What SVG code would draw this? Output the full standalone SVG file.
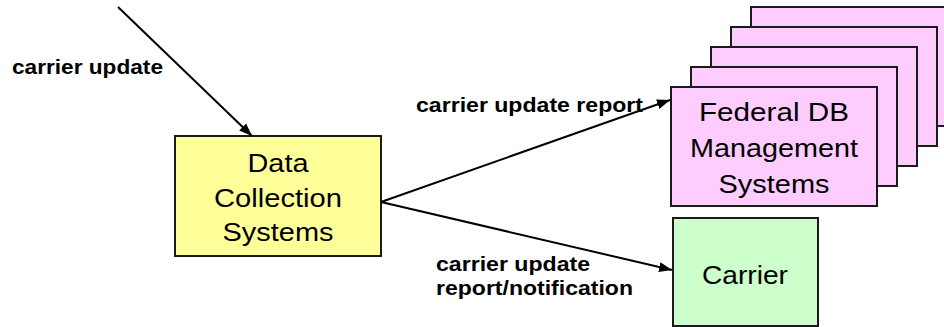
<svg xmlns="http://www.w3.org/2000/svg" width="944" height="327" viewBox="0 0 944 327">
  <style>
    .box { stroke: #1a1a1a; stroke-width: 2; }
    .yellow { fill: #FFFF99; }
    .pink { fill: #FFCCFF; }
    .green { fill: #CCFFCC; }
    .node-text { font-family: "Liberation Sans", Arial, sans-serif; font-size: 26px; fill: #000; }
    .label { font-family: "Liberation Sans", Arial, sans-serif; font-size: 20px; font-weight: bold; fill: #000; }
    .conn { stroke: #000; stroke-width: 2; fill: none; marker-end: url(#arrow); }
  </style>
  <defs>
    <marker id="arrow" markerUnits="userSpaceOnUse" markerWidth="14" markerHeight="12" viewBox="0 0 14 12" refX="13" refY="6" orient="auto">
      <path d="M0,1 L13,6 L0,11 Z" fill="#000"/>
    </marker>
  </defs>
  <rect width="944" height="327" fill="#fff"/>

  <g id="federal-db">
    <rect class="box pink" x="751" y="7" width="206" height="119"/>
    <rect class="box pink" x="731" y="27" width="206" height="119"/>
    <rect class="box pink" x="711" y="47" width="206" height="119"/>
    <rect class="box pink" x="691" y="67" width="206" height="119"/>
    <rect class="box pink" x="671" y="87" width="206" height="119"/>
    <text class="node-text" x="699" y="121" textLength="150" lengthAdjust="spacingAndGlyphs">Federal DB</text>
    <text class="node-text" x="690" y="157" textLength="168" lengthAdjust="spacingAndGlyphs">Management</text>
    <text class="node-text" x="718.5" y="193" textLength="111" lengthAdjust="spacingAndGlyphs">Systems</text>
  </g>

  <g id="data-collection">
    <rect class="box yellow" x="175" y="136" width="206" height="120"/>
    <text class="node-text" x="247.5" y="172" textLength="61" lengthAdjust="spacingAndGlyphs">Data</text>
    <text class="node-text" x="214" y="206.5" textLength="128" lengthAdjust="spacingAndGlyphs">Collection</text>
    <text class="node-text" x="222.5" y="241" textLength="111" lengthAdjust="spacingAndGlyphs">Systems</text>
  </g>

  <g id="carrier">
    <rect class="box green" x="673" y="218" width="145" height="108"/>
    <text class="node-text" x="702" y="284" textLength="86" lengthAdjust="spacingAndGlyphs">Carrier</text>
  </g>

  <g id="connectors">
    <line class="conn" x1="118" y1="7" x2="252" y2="136"/>
    <line class="conn" x1="381" y1="202" x2="670" y2="100"/>
    <line class="conn" x1="381" y1="202" x2="672" y2="270"/>
  </g>

  <g id="labels">
    <text class="label" x="12" y="74" textLength="151" lengthAdjust="spacingAndGlyphs">carrier update</text>
    <text class="label" x="416" y="112" textLength="227" lengthAdjust="spacingAndGlyphs">carrier update report</text>
    <text class="label" x="436" y="271" textLength="154" lengthAdjust="spacingAndGlyphs">carrier update</text>
    <text class="label" x="436" y="295" textLength="197" lengthAdjust="spacingAndGlyphs">report/notification</text>
  </g>
</svg>
